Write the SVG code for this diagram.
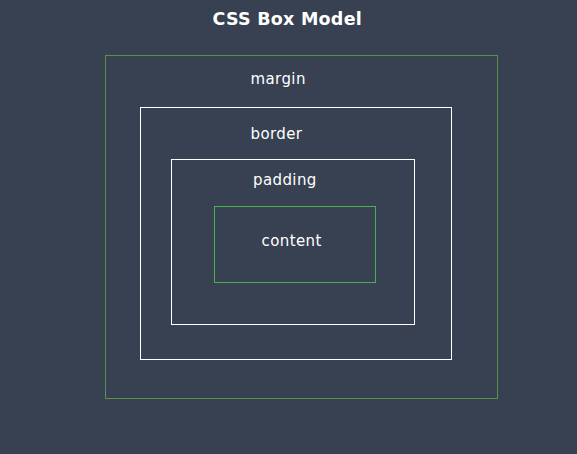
<svg xmlns="http://www.w3.org/2000/svg" width="577" height="454" viewBox="0 0 577 454">
<style>
.lbl{font-family:"DejaVu Sans","Liberation Sans",sans-serif;font-size:15px;letter-spacing:0.4px;fill:#ffffff}
.title{font-family:"DejaVu Sans","Liberation Sans",sans-serif;font-size:17.5px;font-weight:bold;letter-spacing:0.25px;fill:#ffffff}
.box{fill:none;stroke-width:1}
</style>
<rect width="577" height="454" fill="#374151"/>
<text class="title" x="212.5" y="25">CSS Box Model</text>
<g id="margin">
<rect class="box" x="105.5" y="55.5" width="392" height="343" stroke="#5b8f4e"/>
<text class="lbl" x="250.5" y="84.3">margin</text>
</g>
<g id="border">
<rect class="box" x="140.5" y="107.5" width="311" height="252" stroke="#ffffff"/>
<text class="lbl" x="250.5" y="139">border</text>
</g>
<g id="padding">
<rect class="box" x="171.5" y="159.5" width="243" height="165" stroke="#ffffff"/>
<text class="lbl" x="253" y="185">padding</text>
</g>
<g id="content">
<rect class="box" x="214.5" y="206.5" width="161" height="76" stroke="#4caf50"/>
<text class="lbl" x="261.5" y="246">content</text>
</g>
<g id="connectors"></g>
</svg>
